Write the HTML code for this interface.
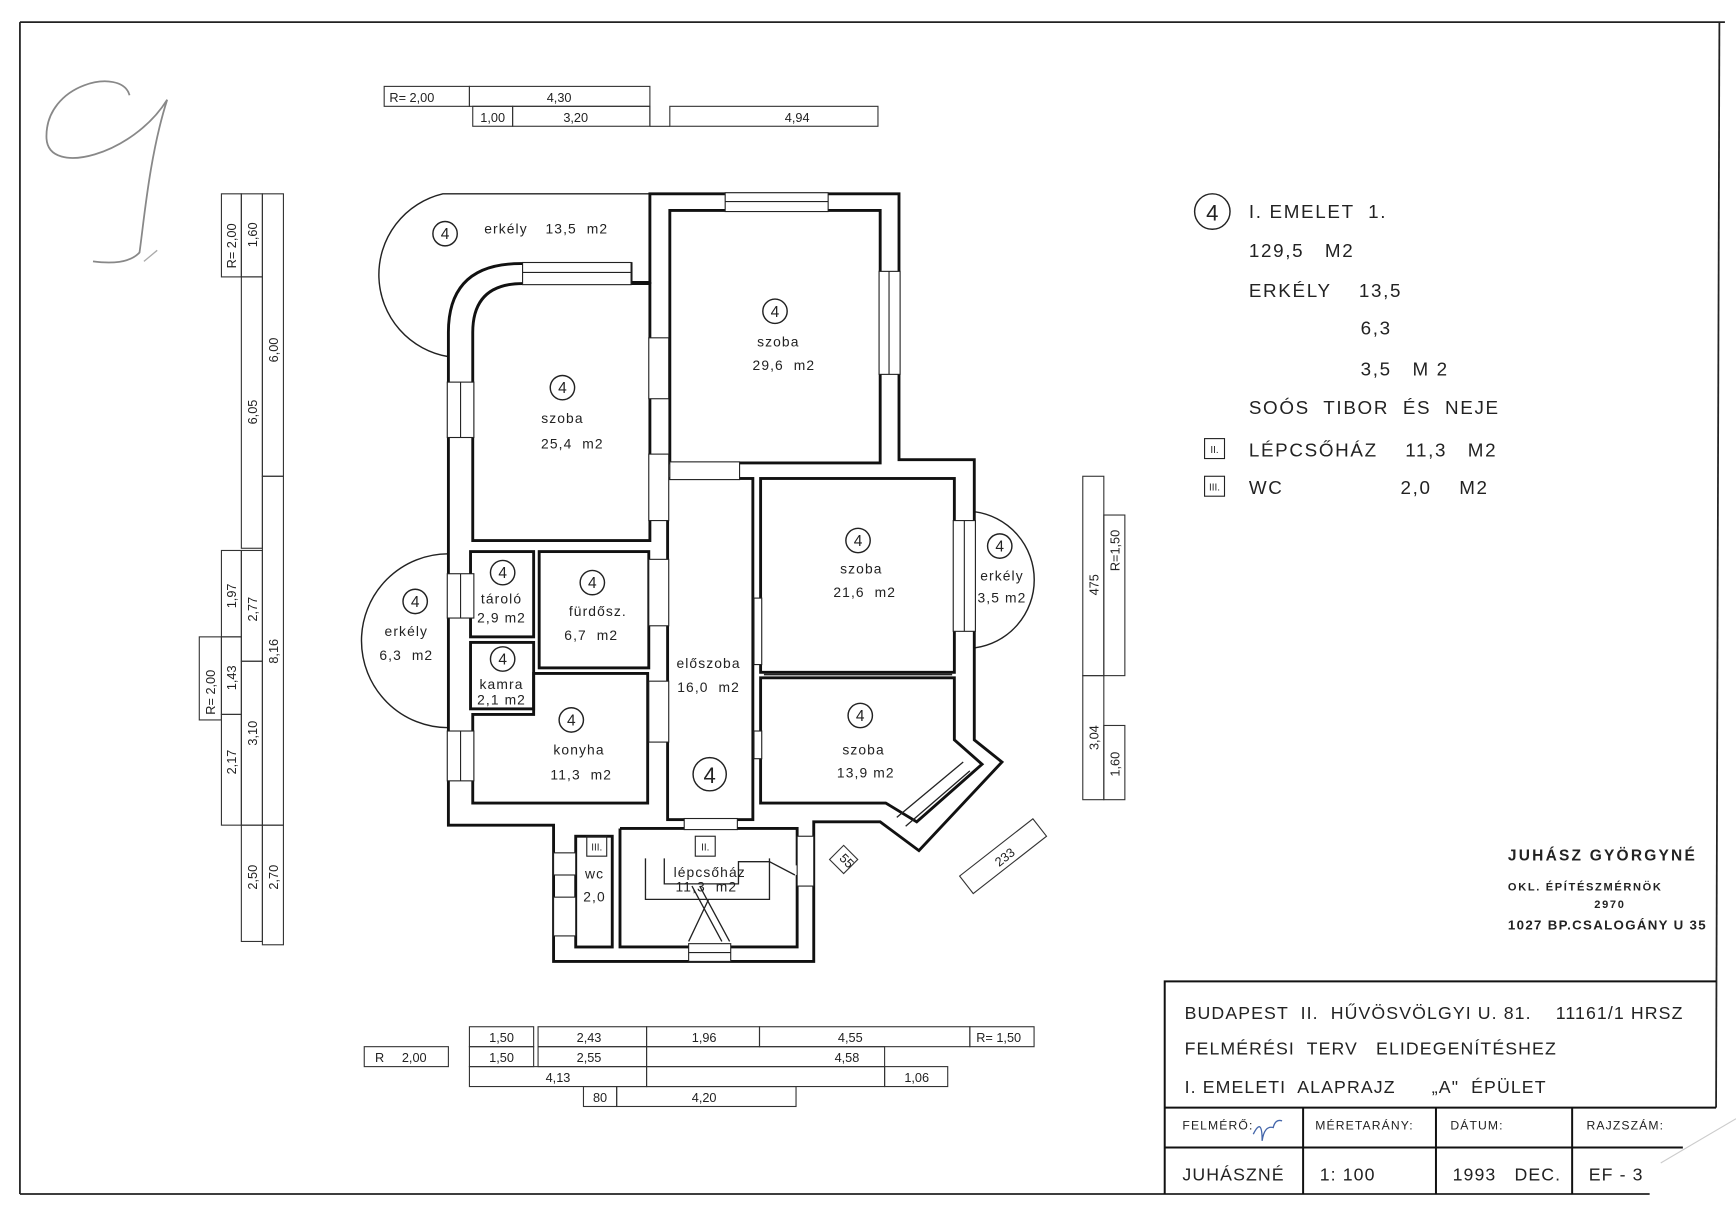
<!DOCTYPE html>
<html><head><meta charset="utf-8"><style>
html,body{margin:0;padding:0;background:#fff;width:1736px;height:1225px;overflow:hidden}
svg{display:block}
text{font-family:"Liberation Sans",sans-serif;fill:#222;white-space:pre}
</style></head><body>
<svg width="1736" height="1225" viewBox="0 0 1568 1106" preserveAspectRatio="none" xmlns="http://www.w3.org/2000/svg" xml:space="preserve">
<rect width="1568" height="1106" fill="#fff"/>
<g stroke="#222" stroke-width="1.6" fill="none">
<line x1="18" y1="20" x2="1558" y2="20"/>
<line x1="18" y1="20" x2="18" y2="1078"/>
<line x1="18" y1="1078" x2="1490" y2="1078"/>
<line x1="1553" y1="20" x2="1550" y2="1000"/>
</g>
<path d="M117,86 C110,60 40,75 42,125 C44,160 120,140 151,90 C135,140 130,200 126,228 Q115,240 84,236" stroke="#888" stroke-width="1.6" fill="none"/>
<path d="M130,236 L142,226" stroke="#aaa" stroke-width="1.2"/>

<g stroke="#333" stroke-width="1" fill="none">
<rect x="347" y="78" width="77" height="18"/><rect x="424" y="78" width="163" height="18"/>
<rect x="427" y="96" width="36" height="18"/><rect x="463" y="96" width="124" height="18"/>
<line x1="587" y1="96" x2="587" y2="114"/><line x1="587" y1="114" x2="605" y2="114"/>
<rect x="605" y="96" width="188" height="18"/>
<rect x="200" y="175" width="18" height="75"/><rect x="218" y="175" width="19" height="75"/>
<rect x="218" y="250" width="19" height="245"/><rect x="237" y="175" width="19" height="255"/>
<rect x="200" y="497" width="18" height="78"/><rect x="218" y="497" width="19" height="100"/>
<rect x="200" y="575" width="18" height="70"/><rect x="180" y="575" width="20" height="75"/>
<rect x="200" y="645" width="18" height="100"/><rect x="218" y="597" width="19" height="148"/>
<rect x="237" y="430" width="19" height="315"/><rect x="218" y="745" width="19" height="105"/>
<rect x="237" y="745" width="19" height="108"/>
<rect x="978" y="430" width="19" height="180"/><rect x="997" y="465" width="19" height="145"/>
<rect x="978" y="610" width="19" height="112"/><rect x="997" y="655" width="19" height="67"/>
<rect x="424" y="927" width="58" height="18"/><rect x="486" y="927" width="98" height="18"/>
<rect x="584" y="927" width="102" height="18"/><rect x="686" y="927" width="190" height="18"/>
<rect x="876" y="927" width="58" height="18"/>
<rect x="329" y="945" width="76" height="18"/><rect x="424" y="945" width="58" height="18"/>
<rect x="486" y="945" width="98" height="18"/><rect x="584" y="945" width="215" height="18"/>
<rect x="424" y="963" width="160" height="18"/><rect x="584" y="963" width="215" height="18"/><rect x="799" y="963" width="57" height="18"/>
<rect x="527" y="981" width="30" height="18"/><rect x="557" y="981" width="162" height="18"/>
<rect x="-9" y="-9" width="18" height="18" transform="translate(762,776) rotate(45)"/>
<rect x="-42" y="-10" width="84" height="20" transform="translate(906,773) rotate(-38)"/>
</g>
<g font-size="11.5" text-anchor="middle">
<text x="372" y="92">R= 2,00</text><text x="505" y="92">4,30</text>
<text x="445" y="110">1,00</text><text x="520" y="110">3,20</text><text x="720" y="110">4,94</text>
<text x="453" y="941">1,50</text><text x="532" y="941">2,43</text><text x="636" y="941">1,96</text><text x="768" y="941">4,55</text><text x="902" y="941">R= 1,50</text>
<text x="362" y="959">R     2,00</text><text x="453" y="959">1,50</text><text x="532" y="959">2,55</text><text x="765" y="959">4,58</text>
<text x="504" y="977">4,13</text><text x="828" y="977">1,06</text>
<text x="542" y="995">80</text><text x="636" y="995">4,20</text>
</g>
<g font-size="11.5" text-anchor="middle">
<text transform="translate(213,222) rotate(-90)">R= 2,00</text>
<text transform="translate(232,212) rotate(-90)">1,60</text>
<text transform="translate(232,372) rotate(-90)">6,05</text>
<text transform="translate(251,316) rotate(-90)">6,00</text>
<text transform="translate(213,538) rotate(-90)">1,97</text>
<text transform="translate(232,550) rotate(-90)">2,77</text>
<text transform="translate(213,612) rotate(-90)">1,43</text>
<text transform="translate(194,625) rotate(-90)">R= 2,00</text>
<text transform="translate(213,688) rotate(-90)">2,17</text>
<text transform="translate(232,662) rotate(-90)">3,10</text>
<text transform="translate(251,588) rotate(-90)">8,16</text>
<text transform="translate(232,792) rotate(-90)">2,50</text>
<text transform="translate(251,792) rotate(-90)">2,70</text>
<text transform="translate(992,528) rotate(-90)">475</text>
<text transform="translate(1011,497) rotate(-90)">R=1,50</text>
<text transform="translate(992,666) rotate(-90)">3,04</text>
<text transform="translate(1011,690) rotate(-90)">1,60</text>
<text transform="translate(762,780) rotate(45)">55</text>
<text transform="translate(910,777) rotate(-38)">233</text>
</g>

<g stroke="#222" stroke-width="1.3" fill="none">
<path d="M587,175 H400 A75,75 0 0 0 405,322"/>
<path d="M405,500 A78,78 0 0 0 405,657"/>
<path d="M880,462 A62,62 0 0 1 880,585"/>
</g>
<g stroke="#111" stroke-width="2.6" fill="none" stroke-linejoin="miter">
<path d="M587,175 H812 V415 H880 V668 L905,688 L830,768 L795,742 H735 V868 H500 V745 H405 V300 Q405,238 470,238 H570 V255 H587 Z"/>
<path d="M605,190 H795 V418 H605 Z"/>
<path d="M427,488 V300 Q427,256 472,256 H587 V488 Z"/>
<rect x="425" y="498" width="57" height="77"/>
<rect x="487" y="498" width="99" height="105"/>
<rect x="425" y="580" width="57" height="60"/>
<path d="M427,645 H482 V608 H585 V725 H427 Z"/>
<rect x="603" y="432" width="77" height="308"/>
<rect x="687" y="432" width="175" height="175"/>
<path d="M687,612 H862 V668 L887,690 L828,742 L800,725 H687 Z"/>
<rect x="520" y="755" width="33" height="100"/>
<path d="M560,748 H720 V780 H735"/>
<path d="M560,748 V855 H720 V790"/>
</g>
<g fill="#fff" stroke="#222" stroke-width="1">
<rect x="655" y="174" width="93" height="17"/><line x1="655" y1="182" x2="748" y2="182"/>
<rect x="794" y="245" width="19" height="93"/><line x1="803" y1="245" x2="803" y2="338"/>
<rect x="472" y="237" width="98" height="20"/><line x1="472" y1="246" x2="570" y2="246"/>
<rect x="404" y="345" width="24" height="50"/><line x1="416" y1="345" x2="416" y2="395"/>
<rect x="404" y="518" width="24" height="40"/><line x1="416" y1="518" x2="416" y2="558"/>
<rect x="404" y="660" width="24" height="45"/><line x1="416" y1="660" x2="416" y2="705"/>
<rect x="861" y="470" width="20" height="100"/><line x1="871" y1="470" x2="871" y2="570"/>
<rect x="586" y="305" width="18" height="55"/><rect x="586" y="410" width="18" height="60"/>
<rect x="586" y="505" width="18" height="60"/><rect x="586" y="615" width="18" height="55"/>
<rect x="681" y="540" width="7" height="60"/><rect x="681" y="660" width="7" height="25"/>
<rect x="605" y="417" width="63" height="16"/>
<rect x="618" y="739" width="48" height="10"/>
<rect x="500" y="770" width="20" height="20"/><rect x="500" y="810" width="20" height="35"/>
<rect x="720" y="755" width="15" height="45"/>
<rect x="622" y="852" width="38" height="16"/><line x1="622" y1="860" x2="660" y2="860"/>
</g>
<path d="M810,738 L870,688" stroke="#222" stroke-width="1.2"/>
<path d="M818,746 L876,696" stroke="#222" stroke-width="1.2"/>
<line x1="690" y1="609" x2="860" y2="609" stroke="#222" stroke-width="1.5"/>
<g stroke="#222" stroke-width="1.2" fill="none">
<path d="M583,775 V812 H695 V775"/>
<path d="M600,775 V798 H667 V778 H695 L718,790"/>
<path d="M625,800 L652,850 M632,800 L659,850 M640,812 L622,850"/>
</g>

<g font-size="12.5" text-anchor="middle" letter-spacing="1">
<text x="457" y="211">erkély</text><text x="521" y="211">13,5  m2</text>
<text x="508" y="382">szoba</text><text x="517" y="405">25,4  m2</text>
<text x="703" y="313">szoba</text><text x="708" y="334">29,6  m2</text>
<text x="453" y="545">tároló</text><text x="453" y="562">2,9 m2</text>
<text x="540" y="556">fürdősz.</text><text x="534" y="578">6,7  m2</text>
<text x="453" y="622">kamra</text><text x="453" y="636">2,1 m2</text>
<text x="523" y="681">konyha</text><text x="525" y="704">11,3  m2</text>
<text x="640" y="603">előszoba</text><text x="640" y="625">16,0  m2</text>
<text x="778" y="518">szoba</text><text x="781" y="539">21,6  m2</text>
<text x="905" y="524">erkély</text><text x="905" y="544">3,5 m2</text>
<text x="367" y="574">erkély</text><text x="367" y="596">6,3  m2</text>
<text x="780" y="681">szoba</text><text x="782" y="702">13,9 m2</text>
<text x="537" y="793">wc</text><text x="537" y="814">2,0</text>
<text x="641" y="792">lépcsőház</text><text x="638" y="805">11,3  m2</text>
</g>
<g stroke="#222" stroke-width="1.3" fill="none">
<circle cx="402" cy="211" r="11"/><circle cx="508" cy="350" r="11"/><circle cx="700" cy="281" r="11"/>
<circle cx="454" cy="517" r="11"/><circle cx="535" cy="526" r="11"/><circle cx="454" cy="595" r="11"/>
<circle cx="516" cy="650" r="11"/><circle cx="641" cy="699" r="15"/><circle cx="775" cy="488" r="11"/>
<circle cx="903" cy="493" r="11"/><circle cx="375" cy="543" r="11"/><circle cx="777" cy="646" r="11"/>
<circle cx="1095" cy="191" r="16"/>
</g>
<g font-size="14" text-anchor="middle">
<text x="402" y="216">4</text><text x="508" y="355">4</text><text x="700" y="286">4</text>
<text x="454" y="522">4</text><text x="535" y="531">4</text><text x="454" y="600">4</text>
<text x="516" y="655">4</text><text x="641" y="707" font-size="20">4</text><text x="775" y="493">4</text>
<text x="903" y="498">4</text><text x="375" y="548">4</text><text x="777" y="651">4</text>
<text x="1095" y="199" font-size="20">4</text>
</g>
<g stroke="#222" stroke-width="1" fill="none">
<rect x="530" y="755" width="18" height="18"/><rect x="628" y="755" width="18" height="18"/>
<rect x="1088" y="396" width="18" height="18"/><rect x="1088" y="430" width="18" height="18"/>
</g>
<g font-size="9" text-anchor="middle"><text x="539" y="768">III.</text><text x="637" y="768">II.</text>
<text x="1097" y="409">II.</text><text x="1097" y="443">III.</text></g>

<g font-size="17" letter-spacing="1.5">
<text x="1128" y="197">I. EMELET  1.</text>
<text x="1128" y="232">129,5   M2</text>
<text x="1128" y="268">ERKÉLY    13,5</text>
<text x="1229" y="302">6,3</text>
<text x="1229" y="339">3,5   M 2</text>
<text x="1128" y="374">SOÓS  TIBOR  ÉS  NEJE</text>
<text x="1128" y="412">LÉPCSŐHÁZ    11,3   M2</text>
<text x="1128" y="446">WC</text><text x="1265" y="446">2,0    M2</text>
</g>
<g font-weight="bold" fill="#333">
<text x="1362" y="777" font-size="14" letter-spacing="2">JUHÁSZ GYÖRGYNÉ</text>
<text x="1362" y="804" font-size="10" letter-spacing="1.5">OKL. ÉPÍTÉSZMÉRNÖK</text>
<text x="1440" y="820" font-size="10" letter-spacing="1.5">2970</text>
<text x="1362" y="839" font-size="12" letter-spacing="1.2">1027 BP.CSALOGÁNY U 35</text>
</g>
<g stroke="#111" stroke-width="1.8" fill="none">
<path d="M1052,1078 V886 H1550"/>
<line x1="1052" y1="1000" x2="1550" y2="1000"/>
<line x1="1052" y1="1036" x2="1520" y2="1036"/>
<line x1="1177" y1="1000" x2="1177" y2="1078"/>
<line x1="1297" y1="1000" x2="1297" y2="1078"/>
<line x1="1420" y1="1000" x2="1420" y2="1078"/>
</g>
<path d="M1500,1050 L1568,1010" stroke="#ccc" stroke-width="1"/>
<g font-size="16" letter-spacing="1">
<text x="1070" y="920">BUDAPEST  II.  HŰVÖSVÖLGYI U. 81.    11161/1 HRSZ</text>
<text x="1070" y="952">FELMÉRÉSI  TERV   ELIDEGENÍTÉSHEZ</text>
<text x="1070" y="987">I. EMELETI  ALAPRAJZ      „A"  ÉPÜLET</text>
<text x="1068" y="1066">JUHÁSZNÉ</text><text x="1192" y="1066">1: 100</text>
<text x="1312" y="1066">1993   DEC.</text><text x="1435" y="1066">EF - 3</text>
</g>
<g font-size="11" letter-spacing="1">
<text x="1068" y="1020">FELMÉRŐ:</text><text x="1188" y="1020">MÉRETARÁNY:</text>
<text x="1310" y="1020">DÁTUM:</text><text x="1433" y="1020">RAJZSZÁM:</text>
</g>
<path d="M1132,1024 Q1140,1008 1140,1030 Q1142,1016 1150,1018 Q1152,1010 1158,1012" stroke="#46a" stroke-width="1.2" fill="none"/>
</svg>
</body></html>
